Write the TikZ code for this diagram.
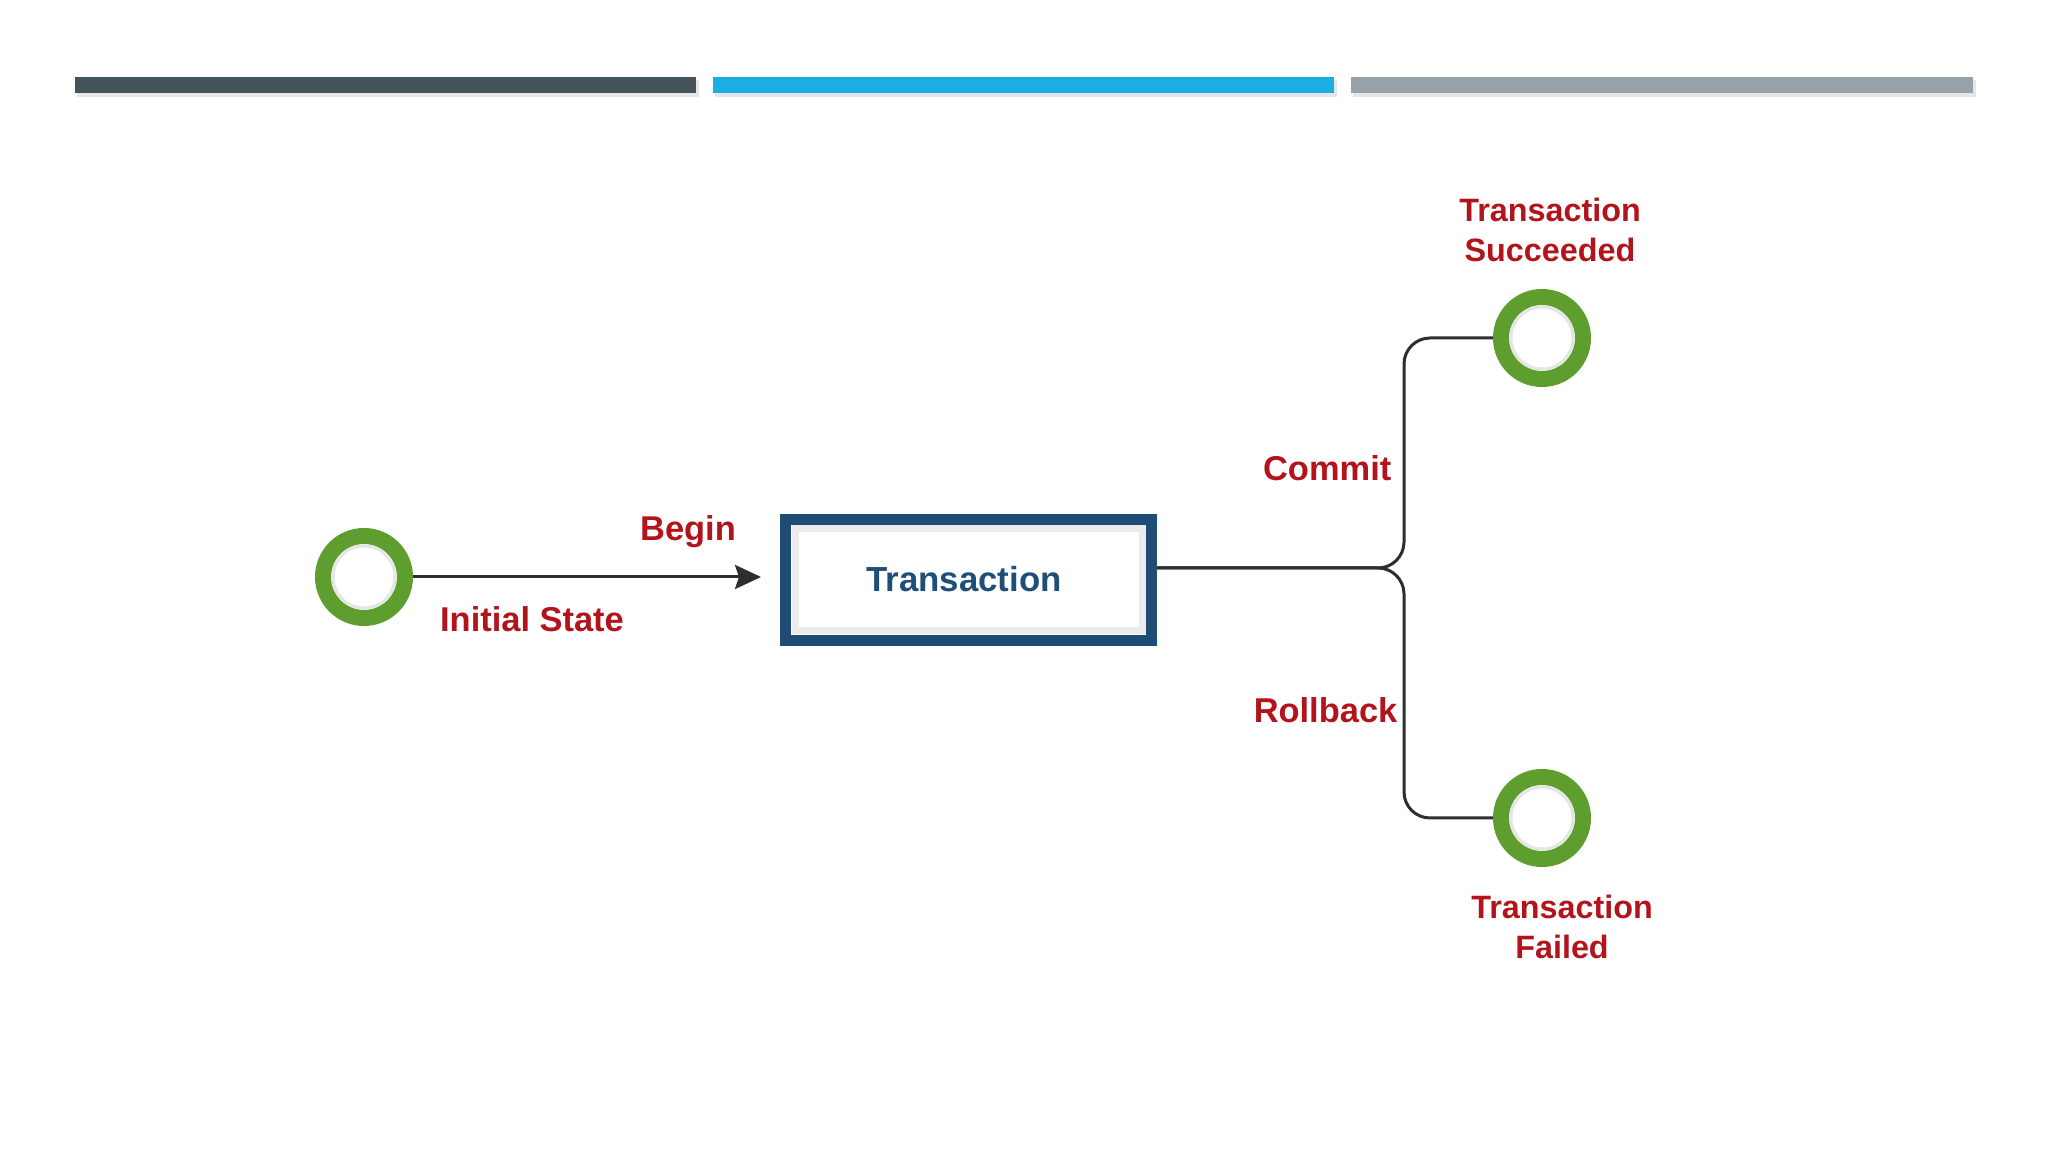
\documentclass[tikz,border=0pt]{standalone}
\usepackage{fontspec}
\setmainfont{Liberation Sans}
\usetikzlibrary{arrows.meta,calc}
\definecolor{barDark}{HTML}{45535B}
\definecolor{barBlue}{HTML}{1BADE4}
\definecolor{barGray}{HTML}{97A2A8}
\definecolor{ringGreen}{HTML}{5E9E2E}
\definecolor{labelRed}{HTML}{B3141C}
\definecolor{boxBlue}{HTML}{1F4C75}
\definecolor{textBlue}{HTML}{1F4E79}
\definecolor{lineGray}{HTML}{2E2E2E}
\tikzset{
  statering/.style={circle, draw=ringGreen, fill=white, line width=1.6mm, minimum size=8.2mm, inner sep=0pt},
  lbl/.style={text=labelRed, font=\fontsize{9.8}{11.4}\selectfont\bfseries, inner sep=0pt, align=center},
  endlbl/.style={lbl, font=\fontsize{9.2}{11.4}\selectfont\bfseries},
  txbox/.style={rectangle, draw=boxBlue, line width=1.1mm, fill=white, minimum width=36.6mm, minimum height=12.1mm},
  conn/.style={draw=lineGray, line width=0.3mm},
}
\begin{document}
\begin{tikzpicture}[x=0.1mm,y=-0.1mm]
\useasboundingbox (0,0) rectangle (2048,1152);
\fill[white] (0,0) rectangle (2048,1152);
% top bars with soft shadow
\foreach \xa/\xb/\c in {75/696/barDark,713/1334/barBlue,1351/1973/barGray}{
  \fill[black!10] (\xa+2,80) rectangle (\xb+3,97);
  \fill[\c] (\xa,77) rectangle (\xb,93);
}
% nodes
\node[statering] (init) at (364,577) {};
\node[statering] (succ) at (1542,338) {};
\node[statering] (fail) at (1542,818) {};
\foreach \n in {init,succ,fail}{
  \draw[black!10, line width=0.3mm] (\n.center) circle[radius=3.1mm];
}
\node[txbox] (box) at (968.5,580) {};
\draw[black!8, line width=0.7mm] ($(box.north west)+(15,15)$) rectangle ($(box.south east)+(-15,-15)$);
\node[text=textBlue, font=\fontsize{9.9}{11.4}\selectfont\bfseries] (boxtext) at (964,579) {Transaction};
% labels
\node[lbl] (begin) at (688,532) {Begin};
\node[lbl] (initlbl) at (532,619) {Initial State};
\node[lbl, anchor=east] (commit) at (1392,468) {Commit};
\node[lbl, anchor=east] (rollback) at (1398,710) {Rollback};
\node[endlbl] (succlbl) at (1550,230) {Transaction\\Succeeded};
\node[endlbl] (faillbl) at (1562,927) {Transaction\\Failed};
% connectors
\draw[conn, -{Stealth[length=2.6mm,width=2.4mm,inset=0.4mm]}, shorten >=1.9mm] (init.east) -- (init.east -| box.west);
\coordinate (split) at (1404,568);
\draw[conn, rounded corners=2.6mm] (box.east |- split) -- (split) -- (split |- succ) -- (succ.west);
\draw[conn, rounded corners=2.6mm] (box.east |- split) -- (split) -- (split |- fail) -- (fail.west);
\end{tikzpicture}
\end{document}
